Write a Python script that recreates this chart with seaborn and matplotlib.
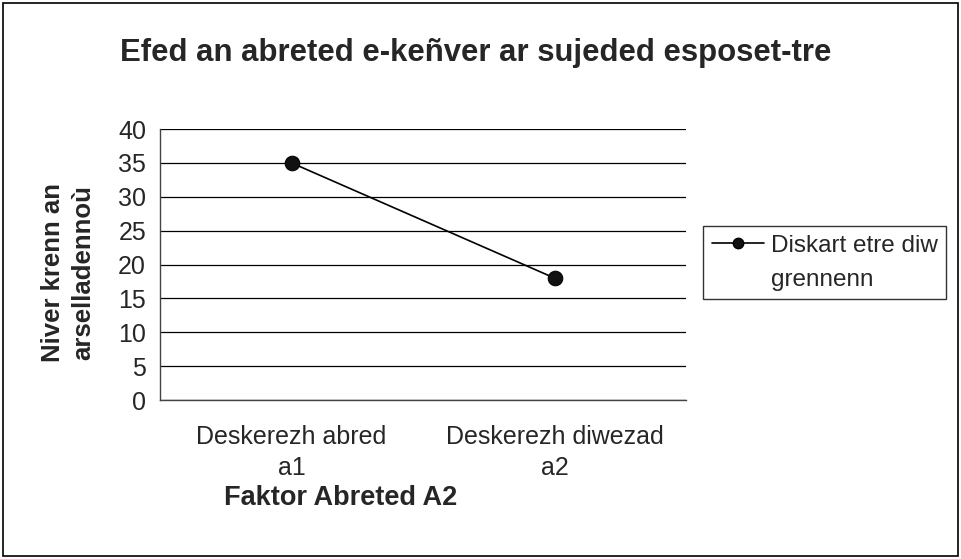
import matplotlib
matplotlib.use("Agg")
import matplotlib.pyplot as plt
import seaborn as sns
import pandas as pd
from matplotlib.patches import Rectangle
from matplotlib.lines import Line2D

categories = ["Deskerezh abred\na1", "Deskerezh diwezad\na2"]
values = [35, 18]
series_label = ["Diskart etre diw", "grennenn"]
y_ticks = [0, 5, 10, 15, 20, 25, 30, 35, 40]

df = pd.DataFrame({"x": [0, 1], "y": values})

sns.set_style("white")
plt.rcParams["font.family"] = ["Liberation Sans", "DejaVu Sans"]

W, H = 961, 559
fig = plt.figure(figsize=(9.61, 5.59), dpi=100)
ax = fig.add_axes([160 / W, 1 - 400 / H, 526 / W, 271 / H])

sns.lineplot(data=df, x="x", y="y", color="black",
             marker="o", markersize=10.5, markeredgecolor="black",
             markerfacecolor="#111111", linewidth=1.2, ax=ax)

ax.set_xlim(-0.5, 1.5)
ax.set_ylim(0, 40)
ax.set_yticks(y_ticks)
ax.set_xticks([0, 1])
ax.set_xticklabels(categories, fontsize=18)
ax.set_xticks([-0.5, 0.5, 1.5], minor=True)
ax.tick_params(axis="x", which="major", length=0, pad=18)
ax.tick_params(axis="x", which="minor", length=7, direction="out", width=1, color="black")
ax.tick_params(axis="y", length=7, direction="out", width=1, color="black", labelsize=18, pad=3)
for lab in ax.get_xticklabels():
    lab.set_linespacing(1.35)

ax.yaxis.grid(True, color="black", linewidth=0.9)
ax.set_axisbelow(True)
for s in ["top", "right"]:
    ax.spines[s].set_visible(False)
for s in ["left", "bottom"]:
    ax.spines[s].set_color("#444444")
    ax.spines[s].set_linewidth(1)

ax.set_xlabel("")
ax.set_ylabel("")
fig.text(341 / W, 1 - 498 / H, "Faktor Abreted A2", fontsize=19.5, fontweight="bold",
         ha="center", va="center")
fig.text(68 / W, 1 - 273 / H, "Niver krenn an\narselladennoù", fontsize=18.5,
         fontweight="bold", ha="center", va="center", rotation=90, linespacing=1.3)
fig.text(476 / W, 1 - 53 / H, "Efed an abreted e-keñver ar sujeded esposet-tre",
         fontsize=22.4, fontweight="bold", ha="center", va="center")

# legend: handle sits next to the first line of the label, as in the original
handles = [Line2D([], [], color="black", lw=1.2, marker="o", markersize=7.5,
                  markerfacecolor="#111111", markeredgecolor="black"),
           Line2D([], [], color="none")]
leg = ax.legend(handles, series_label, loc="upper left",
                bbox_to_anchor=(703 / W, 1 - 226 / H),
                bbox_transform=fig.transFigure, fontsize=17.5,
                frameon=True, fancybox=False, edgecolor="black", handlelength=2.15,
                borderpad=0.35, handletextpad=0.3, borderaxespad=0, labelspacing=0.5)
leg.get_frame().set_linewidth(1)

fig.patches.append(Rectangle((0.003, 0.005), 0.994, 0.99, transform=fig.transFigure,
                             fill=False, edgecolor="black", linewidth=1.2))

fig.savefig("out.png", dpi=100, facecolor="white")
